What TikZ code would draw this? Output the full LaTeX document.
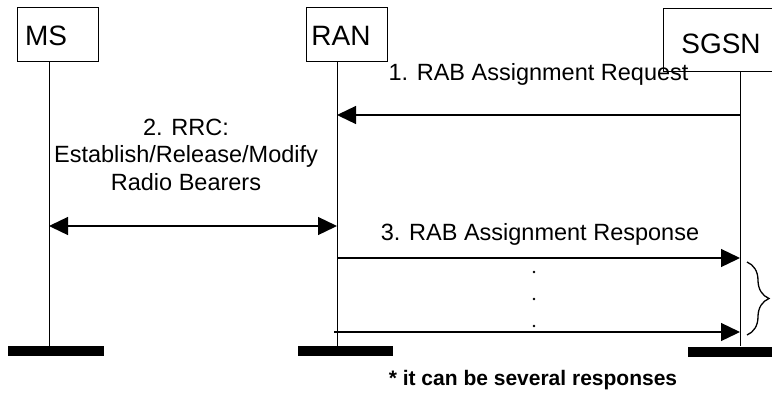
\documentclass[tikz,border=0pt]{standalone}
\usepackage{fontspec}
\setmainfont{Liberation Sans}
\usetikzlibrary{arrows.meta,decorations.pathreplacing}

\begin{document}
\begin{tikzpicture}[x=1pt, y=-1pt,
  every node/.style={font=\fontsize{23.5}{27.5}\selectfont, inner sep=0pt},
  entitybox/.style={draw, line width=0.8pt, minimum width=81pt, minimum height=54pt},
  entityname/.style={font=\fontsize{28}{32}\selectfont, anchor=base},
  lifeline/.style={line width=0.8pt},
  endbar/.style={fill=black, minimum width=95pt, minimum height=10.5pt},
  msg/.style={line width=1.3pt, -{Triangle[length=19pt, width=18pt]}},
  msglabel/.style={anchor=base, align=center}]

  \useasboundingbox (0,0) rectangle (772,392);

  %% Entities on top
  \node[entitybox] (msbox) at (57.5,34) {};
  \node[entityname] (ms) at (46,45) {MS};
  \node[entitybox] (ranbox) at (346.5,34) {};
  \node[entityname] (ran) at (341,45) {RAN};
  \node[entitybox, minimum width=113pt, minimum height=63pt] (sgsnbox) at (719.5,39.5) {};
  \node[entityname] (sgsn) at (721,53) {SGSN};

  %% Bars at the bottom
  \node[endbar, minimum width=96pt] (msbar) at (56,351) {};
  \node[endbar] (ranbar) at (345.5,351) {};
  \node[endbar, minimum width=86pt] (sgsnbar) at (731,352) {};

  %% Lifelines
  \draw[lifeline] (49,61) coordinate (ms top) -- (49,346) coordinate (ms bottom);
  \draw[lifeline] (337,61) coordinate (ran top) -- (337,346) coordinate (ran bottom);
  \draw[lifeline] (740,71) coordinate (sgsn top) -- (740,346) coordinate (sgsn bottom);

  %% Message end points
  \coordinate (m1 sgsn) at (740,115);
  \coordinate (m1 ran)  at (337,115);
  \coordinate (m2 ms)   at (49,226);
  \coordinate (m2 ran)  at (337,226);
  \coordinate (m3 ran)  at (337,258);
  \coordinate (m3 sgsn) at (740,258);
  \coordinate (m4 ran)  at (334,332);
  \coordinate (m4 sgsn) at (740,332);

  %% 1. request
  \draw[msg] (m1 sgsn) -- (m1 ran);
  \node[msglabel] (l1) at (538.5,80) {1. RAB Assignment Request};

  %% 2. radio bearers (both ways)
  \draw[msg, {Triangle[length=19pt, width=18pt]}-{Triangle[length=19pt, width=18pt]}] (m2 ms) -- (m2 ran);
  \node[msglabel] (l2) at (186,190) {2. RRC:\\Establish/Release/Modify\\Radio Bearers};

  %% 3. responses
  \draw[msg] (m3 ran) -- (m3 sgsn);
  \node[msglabel] (l3) at (540,240) {3. RAB Assignment Response};
  \foreach \y in {272,299,326}
    \fill (534,\y) circle (1.4pt);
  \draw[msg] (m4 ran) -- (m4 sgsn);

  %% Brace for the responses
  \draw[line width=1.3pt, decorate,
        decoration={brace, amplitude=22pt}] (747,262) -- (747,335);

  %% Footnote
  \node[anchor=base] (note) at (533,385)
    {\fontsize{21}{24}\selectfont\bfseries * it can be several responses};

\end{tikzpicture}
\end{document}
